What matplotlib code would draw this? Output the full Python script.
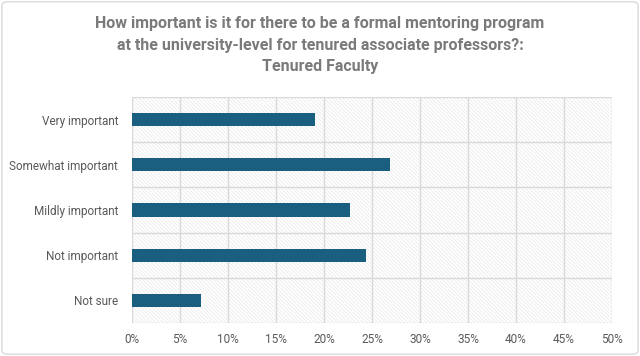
import matplotlib.pyplot as plt
from matplotlib.patches import Rectangle, FancyBboxPatch
from matplotlib.ticker import PercentFormatter

categories = ['Very important', 'Somewhat important', 'Mildly important', 'Not important', 'Not sure']
values = [19.1, 26.9, 22.7, 24.4, 7.2]
xticks = [0, 5, 10, 15, 20, 25, 30, 35, 40, 45, 50]
title = ('How important is it for there to be a formal mentoring program\n'
         'at the university-level for tenured associate professors?:\n'
         'Tenured Faculty')

plt.rcParams['font.family'] = ['Roboto', 'DejaVu Sans']
plt.rcParams['hatch.linewidth'] = 0.4
plt.rcParams['hatch.color'] = '#e2e2e2'

fig = plt.figure(figsize=(6.4, 3.56), dpi=100)
ax = fig.add_axes([132 / 640, 1 - 323 / 356, 480 / 640, 226 / 356])

# chart border
fig.patches.append(FancyBboxPatch((0.003, 0.005), 0.994, 0.99, boxstyle='round,pad=0,rounding_size=0.01',
                                  transform=fig.transFigure, facecolor='white', edgecolor='#d9d9d9',
                                  linewidth=1, zorder=-1))

# hatched plot background
ax.set_facecolor('white')
ax.add_patch(Rectangle((0, 0), 1, 1, transform=ax.transAxes, facecolor='white',
                       edgecolor='#e2e2e2', hatch='\\' * 9, linewidth=0, zorder=0))

y = list(range(len(categories)))
ax.barh(y, values, height=0.29, color='#1a5e80', zorder=3)

ax.set_xlim(0, 50)
ax.set_ylim(len(categories) - 0.5, -0.5)
ax.set_xticks(xticks)
ax.xaxis.set_major_formatter(PercentFormatter(decimals=0))
ax.set_yticks(y)
ax.set_yticklabels(categories)
ax.set_yticks([i + 0.5 for i in range(-1, len(categories))], minor=True)

ax.grid(axis='x', which='major', color='#d9d9d9', linewidth=1, zorder=1)
ax.grid(axis='y', which='minor', color='#d9d9d9', linewidth=1, zorder=1)
ax.set_axisbelow(True)
for s in ax.spines.values():
    s.set_visible(False)
ax.tick_params(axis='both', which='both', length=0, labelsize=8.5, labelcolor='#595959')
ax.tick_params(axis='x', pad=7)
ax.tick_params(axis='y', pad=10)

fig.text(0.5, 0.955, title, ha='center', va='top', fontsize=11.5, fontweight='bold',
         color='#7a7a7a', linespacing=1.55)

fig.savefig('out.png', dpi=100)
